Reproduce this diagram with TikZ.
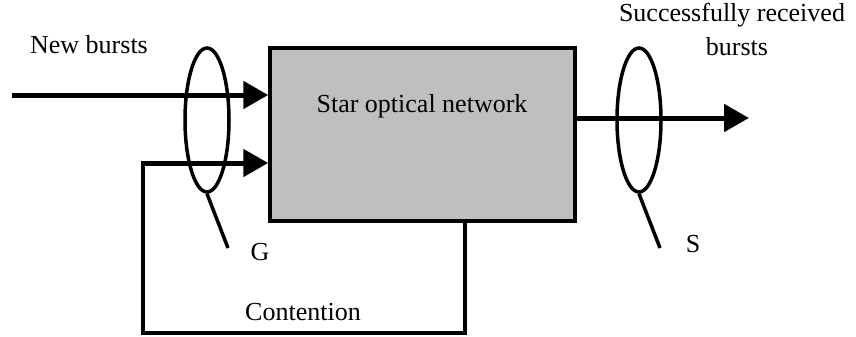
\documentclass[tikz,border=0pt]{standalone}
\usepackage{fontspec}
\setmainfont{Liberation Serif}
\usetikzlibrary{arrows.meta,shapes.geometric}
\begin{document}
\begin{tikzpicture}[x=1pt,y=-1pt,
  lbl/.style={font=\fontsize{26}{29}\selectfont, inner sep=0pt},
  netbox/.style={draw, line width=3.5pt, fill=black!25, minimum width=305pt, minimum height=173pt, inner sep=0pt},
  arr/.style={line width=5pt, -{Triangle[length=25pt,width=27pt]}},
  fb/.style={line width=4.5pt},
  loop/.style={draw, ellipse, line width=3.5pt, minimum width=44pt, minimum height=144pt, inner sep=0pt},
  tail/.style={line width=3.5pt}]
\useasboundingbox (0,0) rectangle (856,337);
\node[netbox] (net) at (422.5,134.5) {};
\node[lbl] (title) at (422,106) {Star optical network};
\coordinate (in) at (12,95);
\coordinate (out) at (749,118);
\coordinate (fbA) at (465,333);
\coordinate (fbB) at (143,333);
\coordinate (fbC) at (143,163);
\draw[arr] (in) -- (net.west |- in);
\draw[fb] (net.south -| fbA) -- (fbA) -- (fbB) -- (fbC);
\draw[arr] ([xshift=-2pt]fbC) -- (net.west |- fbC);
\draw[arr] (net.east |- out) -- (out);
\node[loop] (G) at (207,120) {};
\node[loop] (S) at (639,120) {};
\coordinate (Gt) at (228,248);
\coordinate (St) at (660,248);
\draw[tail] (G.south) -- (Gt);
\draw[tail] (S.south) -- (St);
\node[lbl] (Glbl) at (260,252) {G};
\node[lbl] (Slbl) at (693,244) {S};
\node[lbl] (newb) at (89,45) {New bursts};
\node[lbl] (succ) at (732,15) {Successfully received};
\node[lbl] (succ2) at (737,47) {bursts};
\node[lbl] (cont) at (303,312) {Contention};
\end{tikzpicture}
\end{document}
